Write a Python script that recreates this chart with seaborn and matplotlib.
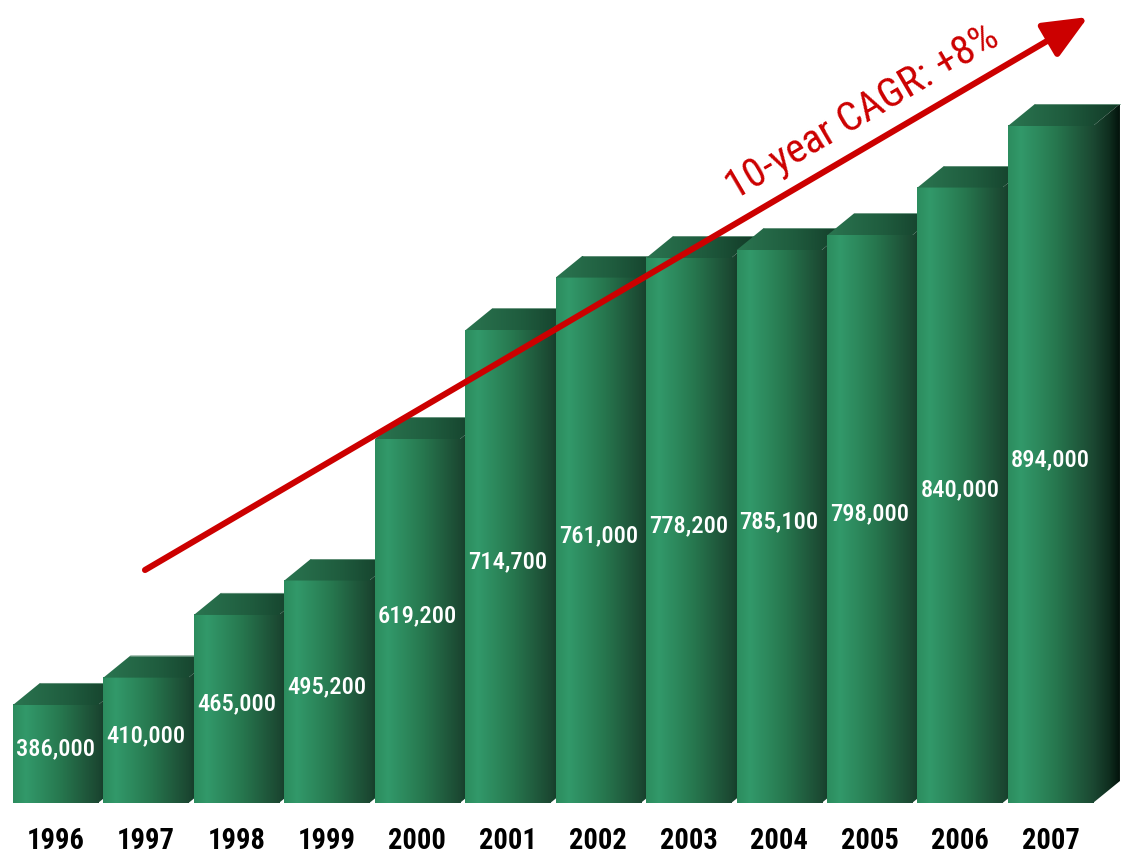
import os
import numpy as np
import pandas as pd
import matplotlib
matplotlib.use("Agg")
import matplotlib.pyplot as plt
from matplotlib import font_manager
from matplotlib.font_manager import FontProperties
from matplotlib.colors import LinearSegmentedColormap
from matplotlib.patches import Polygon
import seaborn as sns

# Data
years = ["1996", "1997", "1998", "1999", "2000", "2001",
         "2002", "2003", "2004", "2005", "2006", "2007"]
values = [386000, 410000, 465000, 495200, 619200, 714700,
          761000, 778200, 785100, 798000, 840000, 894000]
value_labels = ["386,000", "410,000", "465,000", "495,200", "619,200", "714,700",
                "761,000", "778,200", "785,100", "798,000", "840,000", "894,000"]
trend_label = "10-year CAGR: +8%"

BASE = 300000

sns.set_style("white")


def pick_font(want_w):
    """Prefer a narrow sans face of the given weight; fall back to a regular sans."""
    entries = font_manager.fontManager.ttflist

    def wnum(e):
        w = e.weight
        if isinstance(w, str):
            w = {"bold": 700, "normal": 400, "regular": 400, "medium": 500}.get(w, 400)
        return w

    narrow_keys = ("narrow", "condensed", "cond")
    for fam in ("Liberation Sans Narrow", "Roboto Condensed", "DejaVu Sans",
                "Open Sans", "Noto Sans"):
        c = [e for e in entries if e.name == fam and e.style == "normal"
             and (fam == "Liberation Sans Narrow" or fam == "Roboto Condensed"
                  or any(k in os.path.basename(e.fname).lower() for k in narrow_keys))]
        if c:
            c.sort(key=lambda e: abs(wnum(e) - want_w))
            return FontProperties(fname=c[0].fname)
    for fam in ("Liberation Sans", "Roboto"):
        c = [e for e in entries if e.name == fam and e.style == "normal"]
        if c:
            c.sort(key=lambda e: abs(wnum(e) - want_w))
            return FontProperties(fname=c[0].fname)
    return FontProperties(family="DejaVu Sans", weight=want_w)


font_bold = pick_font(700)
font_mid = pick_font(500)
font_reg = pick_font(400)

W, H = 1128, 866
fig = plt.figure(figsize=(W / 100, H / 100), dpi=100)
renderer = fig.canvas.get_renderer()


def fitted_size(text, fp, target_px, max_size):
    """Font size (pt) so that the text is about target_px wide, capped at max_size."""
    probe = fig.text(0, 0, text, fontproperties=fp, fontsize=20)
    w = probe.get_window_extent(renderer).width
    probe.remove()
    return min(max_size, 20 * target_px / w)


base_px = 803
ax = fig.add_axes([0, (H - base_px) / H, 1, base_px / H])

df = pd.DataFrame({"year": years, "value": values})
sns.barplot(data=df, x="year", y="value", ax=ax, width=0.94,
            color="#2a8a5c", linewidth=0, saturation=1)

# axis scale
px_per_cat = 90.45
units_per_px = (values[-1] - BASE) / 677.0
x_left = -55.5 / px_per_cat

dx = 27 / px_per_cat
dy = 22 * units_per_px

front_cmap = LinearSegmentedColormap.from_list(
    "front", [(0.0, "#2c8c5e"), (0.15, "#32996a"), (0.55, "#27784f"), (1.0, "#1b4731")])
top_cmap = LinearSegmentedColormap.from_list(
    "top", [(0.0, "#2a7550"), (0.5, "#1f5c3e"), (1.0, "#123826")])
side_cmap = LinearSegmentedColormap.from_list(
    "side", [(0.0, "#1b4832"), (0.6, "#0f2e1f"), (1.0, "#03120b")])
grad = np.linspace(0, 1, 256).reshape(1, -1)

value_size = fitted_size("386,000", font_mid, 79, 19.5)

for i, (patch, v, lab) in enumerate(zip(ax.patches, values, value_labels)):
    x0 = patch.get_x()
    x1 = x0 + patch.get_width()
    patch.set_y(BASE)
    patch.set_height(v - BASE)
    patch.set_facecolor("none")
    z = 2 + i * 0.1

    # front face
    ax.imshow(grad, cmap=front_cmap, aspect="auto", interpolation="bilinear",
              extent=[x0, x1, BASE, v], zorder=z)
    # top face
    top = Polygon([(x0, v), (x1, v), (x1 + dx, v + dy), (x0 + dx, v + dy)],
                  closed=True, facecolor="none", edgecolor="none")
    ax.add_patch(top)
    im_t = ax.imshow(grad, cmap=top_cmap, aspect="auto", interpolation="bilinear",
                     extent=[x0, x1 + dx, v, v + dy], zorder=z)
    im_t.set_clip_path(top)
    ax.plot([x0 + dx, x1 + dx], [v + dy, v + dy], color="#6f9a84", lw=0.6,
            zorder=z + 0.01)
    # right side face
    side = Polygon([(x1, BASE), (x1 + dx, BASE + dy), (x1 + dx, v + dy), (x1, v)],
                   closed=True, facecolor="none", edgecolor="none")
    ax.add_patch(side)
    im_s = ax.imshow(grad, cmap=side_cmap, aspect="auto", interpolation="bilinear",
                     extent=[x1, x1 + dx, BASE, v + dy], zorder=z)
    im_s.set_clip_path(side)

    ax.text((x0 + x1) / 2, (BASE + v) / 2 + 5 * units_per_px, lab,
            color="white", ha="center", va="center", fontsize=value_size,
            fontproperties=font_mid, zorder=z + 0.05)

ax.set_xlim(x_left, x_left + W / px_per_cat)
ax.set_ylim(BASE, BASE + base_px * units_per_px)
ax.set_xlabel("")
ax.set_ylabel("")
ax.set_yticks([])
ax.tick_params(axis="x", length=0, pad=17)
year_size = fitted_size("1996", font_bold, 58, 22)
for t in ax.get_xticklabels():
    t.set_fontproperties(font_bold)
    t.set_fontsize(year_size)
    t.set_color("black")
sns.despine(ax=ax, left=True, bottom=True)

# growth trend arrow
ax.annotate("", xy=(1088, H - 17), xytext=(145, H - 570),
            xycoords="figure pixels", textcoords="figure pixels",
            arrowprops=dict(arrowstyle="-|>,head_length=1.5,head_width=0.65",
                            mutation_scale=18, lw=4.4, color="#cc0000",
                            shrinkA=0, shrinkB=0),
            annotation_clip=False, zorder=10)
trend_size = fitted_size(trend_label, font_reg, 308, 31)
fig.text(862 / W, (H - 112) / H, trend_label, color="#cc0000", fontsize=trend_size,
         fontproperties=font_reg, rotation=30.4, rotation_mode="anchor",
         ha="center", va="center", zorder=10)

fig.savefig("out.png", dpi=100)
